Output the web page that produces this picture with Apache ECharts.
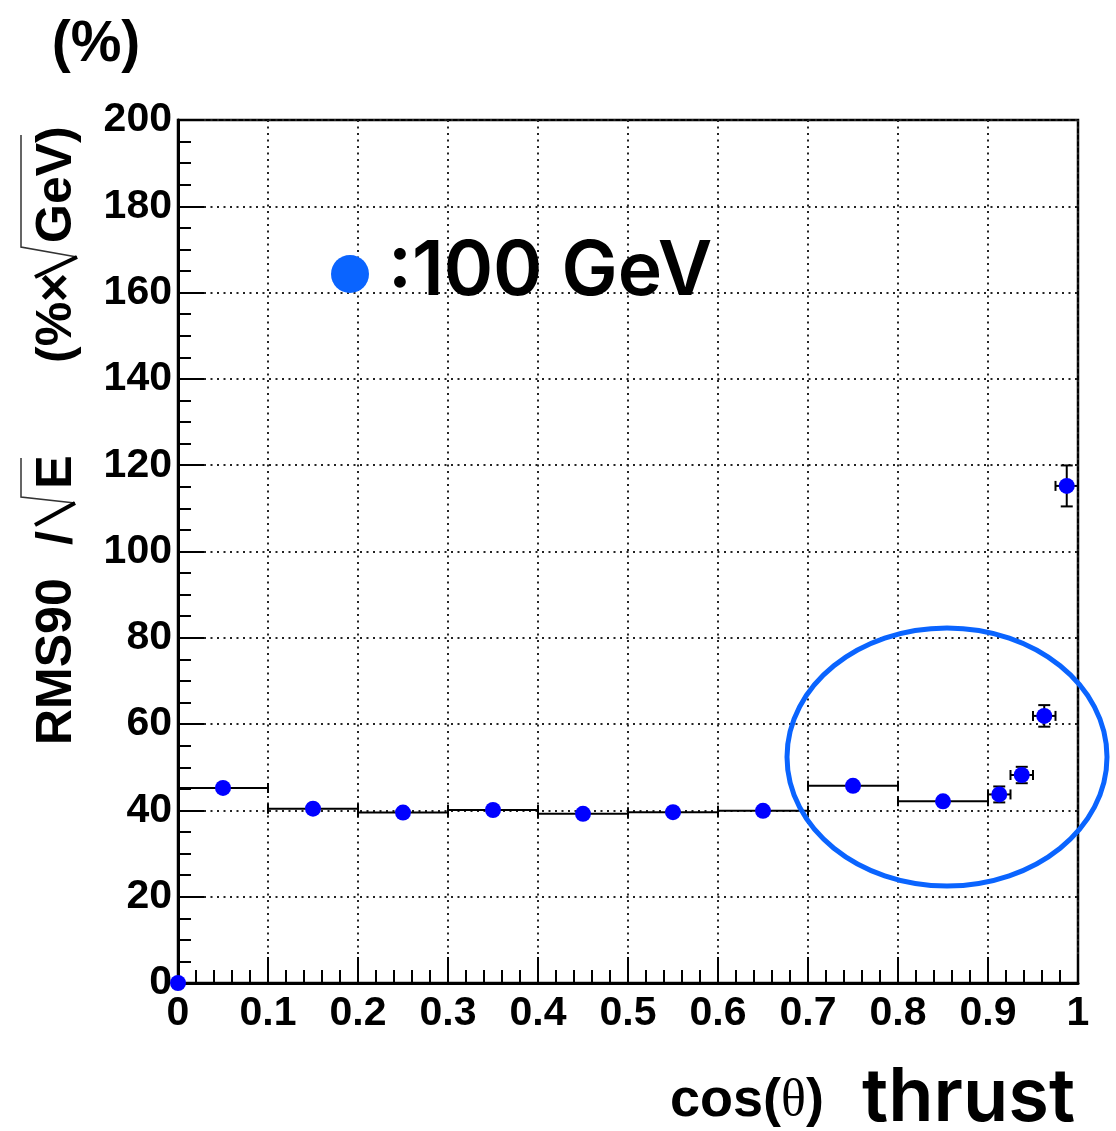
<!DOCTYPE html>
<html>
<head>
<meta charset="utf-8">
<script src="https://cdn.jsdelivr.net/npm/echarts@6/dist/echarts.min.js"></script>
<style>
  html, body { margin: 0; padding: 0; background: #fff; }
  #chart { width: 1116px; height: 1131px; }
</style>
</head>
<body>
<div id="chart"></div>
<script>
// RMS90/sqrt(E) energy resolution versus |cos(theta_thrust)| for 100 GeV events
const binCenter    = [0.05, 0.15, 0.25, 0.35, 0.45, 0.55, 0.65, 0.75, 0.85, 0.9125, 0.9375, 0.9625, 0.9875];
const binHalfWidth = [0.05, 0.05, 0.05, 0.05, 0.05, 0.05, 0.05, 0.05, 0.05, 0.0125, 0.0125, 0.0125, 0.0125];
const rms90        = [45.2, 40.4, 39.5, 40.1, 39.2, 39.6, 39.9, 45.7, 42.1, 43.7, 48.2, 61.9, 115.2];
const rms90Err     = [0, 0, 0, 0, 0, 0, 0, 0, 0, 1.85, 1.9, 2.5, 4.75];
const originPoint  = [[0, 0]];
const xTicks = { min: 0, max: 1, interval: 0.1 };
const yTicks = { min: 0, max: 200, interval: 20 };

const SANS = '"Liberation Sans", Arial, Helvetica, sans-serif';
const ROUND = 'Inter, "Noto Sans", sans-serif';

const errorData = binCenter.map((x, i) => [
  x, rms90[i],
  x - binHalfWidth[i], x + binHalfWidth[i],
  rms90[i] - rms90Err[i], rms90[i] + rms90Err[i]
]);
const pointData = originPoint.concat(binCenter.map((x, i) => [x, rms90[i]]));

function renderErrorBar(params, api) {
  const y = api.value(1);
  const x = api.value(0);
  const l = api.coord([api.value(2), y]);
  const r = api.coord([api.value(3), y]);
  const b = api.coord([x, api.value(4)]);
  const t = api.coord([x, api.value(5)]);
  const st = { stroke: '#000', lineWidth: 2 };
  const cap = 5;
  const kids = [
    { type: 'line', shape: { x1: l[0], y1: l[1], x2: r[0], y2: r[1] }, style: st },
    { type: 'line', shape: { x1: l[0], y1: l[1] - cap, x2: l[0], y2: l[1] + cap }, style: st },
    { type: 'line', shape: { x1: r[0], y1: r[1] - cap, x2: r[0], y2: r[1] + cap }, style: st }
  ];
  if (Math.abs(b[1] - t[1]) > 1) {
    kids.push(
      { type: 'line', shape: { x1: b[0], y1: b[1], x2: t[0], y2: t[1] }, style: st },
      { type: 'line', shape: { x1: b[0] - 6, y1: b[1], x2: b[0] + 6, y2: b[1] }, style: st },
      { type: 'line', shape: { x1: t[0] - 6, y1: t[1], x2: t[0] + 6, y2: t[1] }, style: st }
    );
  }
  return { type: 'group', children: kids };
}

const gridLine = { show: true, lineStyle: { color: '#222', width: 2, type: [2, 4.5] } };

// rotated label pieces for the y-axis title
function vtext(str, x, y, align, size) {
  return {
    type: 'text', x: x, y: y, rotation: Math.PI / 2, z: 10,
    style: { text: str, font: 'bold ' + (size || 50) + 'px ' + SANS, fill: '#000',
             align: align || 'left', verticalAlign: 'middle' }
  };
}
function seg(pts, w, color) {
  return { type: 'polyline', z: 10, shape: { points: pts },
           style: { stroke: color || '#000', lineWidth: w, fill: null } };
}

const chart = echarts.init(document.getElementById('chart'), null, { renderer: 'canvas' });
chart.setOption({
  animation: false,
  backgroundColor: '#fff',
  grid: {
    left: 178, right: 38, top: 120, bottom: 148,
    show: true, borderColor: '#000', borderWidth: 2.5,
    containLabel: false, outerBoundsMode: 'none'
  },
  xAxis: {
    type: 'value', min: xTicks.min, max: xTicks.max, interval: xTicks.interval,
    axisLine: { show: true, onZero: false, lineStyle: { color: '#000', width: 3 } },
    axisTick: { show: true, inside: true, length: 26, lineStyle: { color: '#000', width: 2 } },
    minorTick: { show: true, splitNumber: 5, length: 13, lineStyle: { color: '#000', width: 2 } },
    axisLabel: { margin: 10, color: '#000', fontFamily: SANS, fontWeight: 'bold', fontSize: 41,
                 formatter: v => String(+v.toFixed(2)) },
    splitLine: gridLine
  },
  yAxis: {
    type: 'value', min: yTicks.min, max: yTicks.max, interval: yTicks.interval,
    axisLine: { show: true, onZero: false, lineStyle: { color: '#000', width: 3 } },
    axisTick: { show: true, inside: true, length: 26, lineStyle: { color: '#000', width: 2 } },
    minorTick: { show: true, splitNumber: 4, length: 13, lineStyle: { color: '#000', width: 2 } },
    axisLabel: { margin: 6, color: '#000', fontFamily: SANS, fontWeight: 'bold', fontSize: 41 },
    splitLine: gridLine
  },
  series: [
    {
      type: 'custom', name: 'err', renderItem: renderErrorBar, data: errorData, z: 3,
      encode: { x: [0, 2, 3], y: [1, 4, 5] }, clip: false
    },
    {
      type: 'scatter', name: '100 GeV', data: pointData, symbol: 'circle', symbolSize: 16,
      itemStyle: { color: '#0000ff', opacity: 1 }, z: 5, clip: false
    }
  ],
  graphic: [
    // unit on top
    { type: 'text', x: 96, y: 45, z: 10,
      style: { text: '(%)', font: 'bold 57px ' + SANS, fill: '#000', align: 'center', verticalAlign: 'middle' } },
    // y-axis title: "RMS90 / sqrt(E)"
    vtext('RMS90', 57, 745, 'left'),
    vtext('/', 57, 538, 'center'),
    seg([[21, 458], [21, 497], [75, 503]], 1.5, '#333'),
    seg([[75, 503], [35, 525]], 4),
    vtext('E', 57, 472, 'center'),
    // "(% x sqrt(GeV))"
    vtext('(%\u00d7', 57, 363, 'left'),
    seg([[21, 135], [21, 247], [77, 257]], 1.5, '#333'),
    seg([[77, 257], [35, 277]], 4),
    vtext('GeV)', 57, 243, 'left'),
    // legend
    { type: 'circle', z: 10, shape: { cx: 350, cy: 274, r: 19 }, style: { fill: '#0a64ff' } },
    { type: 'text', x: 388, y: 272, z: 10,
      style: { text: ':100 GeV', font: '600 75px ' + ROUND, fill: '#000', align: 'left', verticalAlign: 'middle' } },
    // highlight around the forward region
    { type: 'ellipse', z: 10, shape: { cx: 947, cy: 757, rx: 160, ry: 129 },
      style: { stroke: '#0a64ff', lineWidth: 5, fill: null } },
    // x-axis title
    { type: 'text', x: 670, y: 1101, z: 10,
      style: {
        text: '{a|cos(}{b|\u03b8}{a|)}', align: 'left', verticalAlign: 'middle',
        rich: {
          a: { font: 'bold 54px ' + SANS, fill: '#000' },
          b: { font: '52px "Liberation Serif", "Times New Roman", serif', fill: '#000' }
        }
      } },
    { type: 'text', x: 862, y: 1099, z: 10,
      style: { text: 'thrust', font: '600 74px ' + ROUND, fill: '#000', align: 'left', verticalAlign: 'middle' } }
  ]
});
</script>
</body>
</html>
